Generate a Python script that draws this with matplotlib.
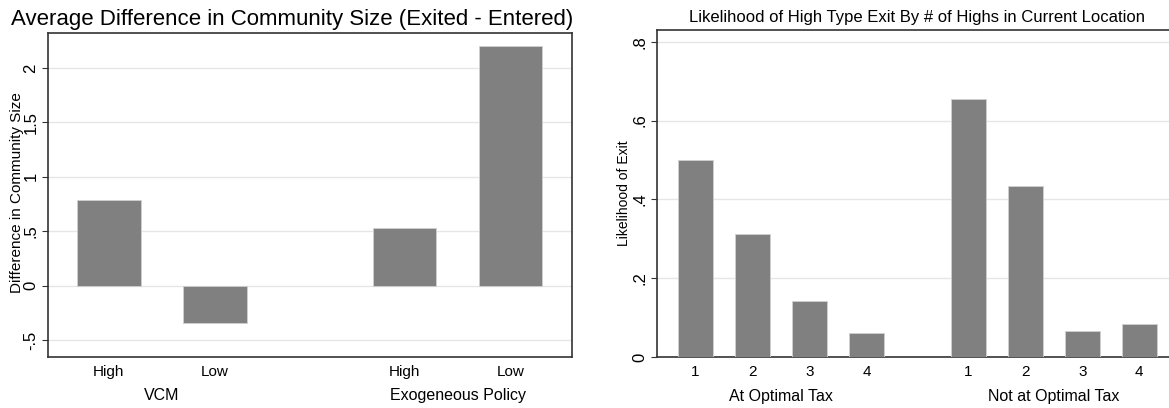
import matplotlib
matplotlib.use("Agg")
import matplotlib.pyplot as plt
import matplotlib.transforms as mtransforms

plt.rcParams['font.family'] = ['Liberation Sans', 'DejaVu Sans']

# left panel data
diff_groups = ["VCM", "Exogeneous Policy"]
diff_types = ["High", "Low"]
diff_values = [[0.79, -0.34], [0.53, 2.20]]
diff_ticks = [-0.5, 0, 0.5, 1, 1.5, 2]
diff_ticklabels = ["-.5", "0", ".5", "1", "1.5", "2"]

# right panel data
exit_groups = ["At Optimal Tax", "Not at Optimal Tax"]
exit_highs = ["1", "2", "3", "4"]
exit_values = [[0.50, 0.312, 0.143, 0.060], [0.655, 0.433, 0.066, 0.085]]
exit_ticks = [0, 0.2, 0.4, 0.6, 0.8]
exit_ticklabels = ["0", ".2", ".4", ".6", ".8"]

bar_color = '#808080'
grid_color = '#e6e6e6'

fig = plt.figure(figsize=(11.69, 4.08), dpi=100)
ax1 = fig.add_axes([48 / 1169, 1 - 357 / 408, 524 / 1169, 324 / 408])
ax2 = fig.add_axes([657 / 1169, 1 - 357 / 408, 512 / 1169, 327 / 408])


def grouped(ax, groups, cats, values, gap, width):
    pos, labels, centers = [], [], []
    start = 0.0
    for g, vals in zip(groups, values):
        p = [start + i for i in range(len(vals))]
        ax.bar(p, vals, width=width, color=bar_color, edgecolor='#d0d0d0',
               linewidth=0.6, zorder=3)
        pos += p
        labels += cats
        centers.append(sum(p) / len(p))
        start = p[-1] + gap
    ax.set_xticks(pos)
    ax.set_xticklabels(labels, fontsize=11)
    ax.tick_params(axis='x', length=0, pad=6)
    trans = mtransforms.blended_transform_factory(ax.transData, ax.transAxes)
    for g, c in zip(groups, centers):
        ax.text(c, -0.097, g, transform=trans, ha='center', va='top', fontsize=11.5)
    return pos


def style(ax, ticks, ticklabels):
    ax.set_yticks(ticks)
    ax.set_yticklabels(ticklabels, rotation=90, va='center', fontsize=12)
    ax.tick_params(axis='y', length=4, width=0.8, pad=3, color='#333333')
    ax.yaxis.grid(True, color=grid_color, linewidth=1, zorder=0)
    ax.set_axisbelow(True)
    for s in ax.spines.values():
        s.set_color('#333333')
        s.set_linewidth(1.2)


grouped(ax1, diff_groups, diff_types, diff_values, gap=1.79, width=0.6)
ax1.set_xlim(-0.575, 4.37)
ax1.set_ylim(-0.655, 2.32)
style(ax1, diff_ticks, diff_ticklabels)
ax1.set_ylabel("Difference in Community Size", fontsize=11)
ax1.yaxis.set_label_coords(-0.046, 0.506)
ax1.set_title("Average Difference in Community Size (Exited - Entered)",
              fontsize=16, pad=6, x=0.466)

grouped(ax2, exit_groups, exit_highs, exit_values, gap=1.78, width=0.61)
ax2.set_xlim(-0.675, 8.3)
ax2.set_ylim(0, 0.83)
style(ax2, exit_ticks, exit_ticklabels)
ax2.spines['right'].set_visible(False)
ax2.set_ylabel("Likelihood of Exit", fontsize=10, labelpad=1)
ax2.set_title("Likelihood of High Type Exit By # of Highs in Current Location",
              fontsize=12, pad=6, x=0.508)

plt.savefig("out.png", dpi=100)
